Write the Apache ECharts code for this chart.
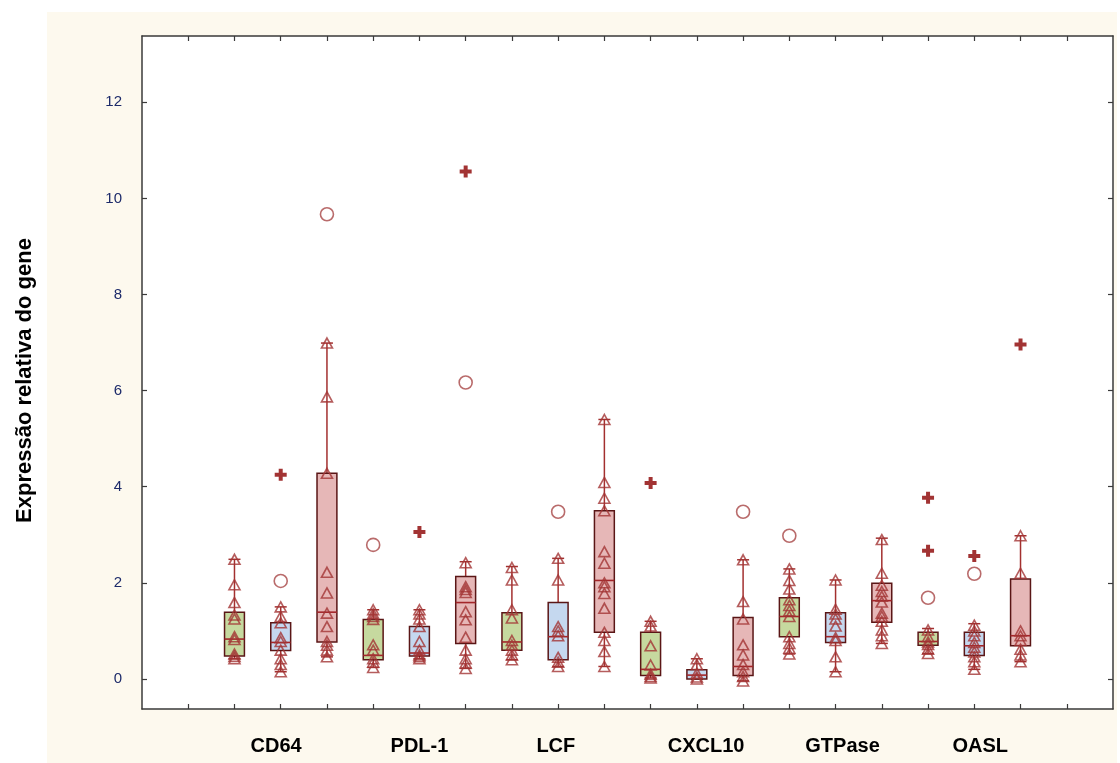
<!DOCTYPE html>
<html>
<head>
<meta charset="utf-8">
<script src="https://cdn.jsdelivr.net/npm/echarts@6/dist/echarts.min.js"></script>
<style>
html,body{margin:0;padding:0;background:#fff;}
#chart{width:1120px;height:763px;}
</style>
</head>
<body>
<div id="chart"></div>
<script>
// ---- data ----
const genes = ['CD64', 'PDL-1', 'LCF', 'CXCL10', 'GTPase', 'OASL'];
const groupColors = ['#c6d99f', '#c5d8ef', '#e6b7b7'];
// box statistics per box (3 groups per gene): [min, Q1, median, Q3, max]
const boxStats = [
  [0.42, 0.48, 0.83, 1.39, 2.49],
  [0.15, 0.59, 0.76, 1.17, 1.50],
  [0.46, 0.77, 1.39, 4.28, 6.99],
  [0.24, 0.40, 0.49, 1.24, 1.44],
  [0.42, 0.48, 0.54, 1.09, 1.44],
  [0.22, 0.74, 1.59, 2.13, 2.44],
  [0.40, 0.60, 0.77, 1.38, 2.34],
  [0.26, 0.40, 0.88, 1.59, 2.51],
  [0.26, 0.97, 2.05, 3.50, 5.40],
  [0.02, 0.07, 0.20, 0.97, 1.20],
  [0.00, 0.00, 0.08, 0.19, 0.42],
  [-0.04, 0.07, 0.26, 1.28, 2.48],
  [0.52, 0.88, 1.30, 1.69, 2.29],
  [0.15, 0.76, 0.88, 1.38, 2.06],
  [0.74, 1.18, 1.63, 1.99, 2.93],
  [0.53, 0.70, 0.78, 0.97, 1.05],
  [0.20, 0.49, 0.69, 0.97, 1.15],
  [0.36, 0.69, 0.90, 2.08, 2.98]
];
// individual (non-outlier) observations per box
const boxPoints = [
  [2.49, 1.96, 1.59, 1.33, 1.25, 0.88, 0.82, 0.52, 0.47, 0.42],
  [1.50, 1.30, 1.17, 0.86, 0.78, 0.60, 0.42, 0.30, 0.15],
  [6.99, 5.87, 4.28, 2.22, 1.79, 1.37, 1.09, 0.78, 0.70, 0.60, 0.46],
  [1.44, 1.36, 1.30, 1.24, 0.71, 0.60, 0.42, 0.35, 0.24],
  [1.44, 1.35, 1.25, 1.09, 0.78, 0.60, 0.50, 0.46, 0.42],
  [2.42, 1.92, 1.86, 1.80, 1.40, 1.23, 0.87, 0.60, 0.42, 0.33, 0.22],
  [2.32, 2.06, 1.44, 1.27, 0.80, 0.70, 0.60, 0.50, 0.40],
  [2.51, 2.06, 1.09, 1.00, 0.90, 0.45, 0.35, 0.26],
  [5.40, 4.09, 3.76, 3.50, 2.65, 2.41, 2.00, 1.92, 1.78, 1.47, 0.97, 0.80, 0.57, 0.26],
  [1.20, 1.10, 0.69, 0.29, 0.10, 0.05, 0.02],
  [0.42, 0.30, 0.12, 0.04, 0.00],
  [2.48, 1.61, 1.25, 0.71, 0.50, 0.30, 0.15, 0.05, -0.04],
  [2.29, 2.05, 1.87, 1.65, 1.53, 1.42, 1.30, 0.88, 0.74, 0.64, 0.52],
  [2.06, 1.45, 1.35, 1.25, 1.10, 0.86, 0.80, 0.46, 0.15],
  [2.90, 2.20, 1.95, 1.82, 1.72, 1.60, 1.37, 1.30, 1.20, 1.02, 0.90, 0.74],
  [1.02, 0.88, 0.77, 0.72, 0.62, 0.53],
  [1.12, 1.00, 0.90, 0.76, 0.66, 0.56, 0.46, 0.36, 0.20],
  [2.98, 2.20, 1.00, 0.90, 0.80, 0.62, 0.50, 0.36]
];
// outliers: [box index, value]
const outliers = [[1, 2.04], [2, 9.67], [3, 2.79], [5, 6.17], [7, 3.48], [11, 3.48], [12, 2.98], [15, 1.69], [16, 2.19]];
// extreme values: [box index, value]
const extremes = [[1, 4.25], [4, 3.06], [5, 10.56], [9, 4.08], [15, 3.77], [15, 2.67], [16, 2.56], [17, 6.96]];
const yTicks = [0, 2, 4, 6, 8, 10, 12];

// ---- build ----
const boxData = boxStats.map((s, i) => [i + 1].concat(s).concat([i % 3]));
const triData = [];
boxPoints.forEach((arr, i) => arr.forEach(v => triData.push([i + 1, v])));
const outData = outliers.map(o => [o[0] + 1, o[1]]);
const extData = extremes.map(o => [o[0] + 1, o[1]]);
const xTickVals = [];
for (let i = 0; i <= 19; i++) xTickVals.push(i);
const geneLabelPos = [1.9, 5.0, 7.95, 11.2, 14.15, 17.13];

const font = '"Liberation Sans", Arial, sans-serif';
const axisLineStyle = {color: '#3a3a3a', width: 1.5};

const chart = echarts.init(document.getElementById('chart'), null, {renderer: 'canvas'});
chart.setOption({
  backgroundColor: '#ffffff',
  animation: false,
  graphic: [{
    type: 'rect', z: -100, silent: true,
    shape: {x: 47, y: 12, width: 1070, height: 751},
    style: {fill: '#fdf9ee'}
  }],
  grid: {left: 142, top: 36, right: 7, bottom: 54, show: true, backgroundColor: '#ffffff', borderWidth: 0,
    containLabel: false, outerBoundsMode: 'none'},
  xAxis: [{
    type: 'value', min: -1, max: 20, interval: 1,
    splitLine: {show: false},
    axisLine: {show: true, onZero: false, lineStyle: axisLineStyle},
    axisTick: {show: true, inside: true, length: 5, customValues: xTickVals, lineStyle: {color: '#3a3a3a', width: 1.2}},
    axisLabel: {
      show: true, customValues: geneLabelPos, margin: 27,
      fontFamily: font, fontWeight: 'bold', fontSize: 20, color: '#000',
      formatter: v => {
        let best = 0;
        geneLabelPos.forEach((p, i) => { if (Math.abs(p - v) < Math.abs(geneLabelPos[best] - v)) best = i; });
        return genes[best];
      }
    }
  }, {
    type: 'value', position: 'top', min: -1, max: 20, interval: 1,
    splitLine: {show: false},
    axisLine: {show: true, onZero: false, lineStyle: axisLineStyle},
    axisTick: {show: true, inside: true, length: 5, customValues: xTickVals, lineStyle: {color: '#3a3a3a', width: 1.2}},
    axisLabel: {show: false}
  }],
  yAxis: [{
    type: 'value', min: -0.625, max: 13.38,
    splitLine: {show: false},
    axisLine: {show: true, onZero: false, lineStyle: axisLineStyle},
    axisTick: {show: true, inside: true, length: 5, customValues: yTicks, lineStyle: {color: '#3a3a3a', width: 1.2}},
    axisLabel: {show: true, customValues: yTicks, margin: 20, fontFamily: font, fontSize: 15, color: '#1d2b6a'},
    name: 'Expressão relativa do gene', nameLocation: 'middle', nameGap: 106, nameRotate: 90,
    nameTextStyle: {fontFamily: font, fontWeight: 'bold', fontSize: 22, color: '#000', padding: [0, 16, 0, 0]}
  }, {
    type: 'value', position: 'right', min: -0.625, max: 13.38,
    splitLine: {show: false},
    axisLine: {show: true, onZero: false, lineStyle: axisLineStyle},
    axisTick: {show: true, inside: true, length: 5, customValues: yTicks, lineStyle: {color: '#3a3a3a', width: 1.2}},
    axisLabel: {show: false}
  }],
  series: [{
    type: 'custom',
    xAxisIndex: 0, yAxisIndex: 0,
    data: boxData,
    encode: {x: 0, y: [1, 2, 3, 4, 5]},
    renderItem: (params, api) => {
      const x = api.value(0);
      const vmin = api.value(1), q1 = api.value(2), med = api.value(3), q3 = api.value(4), vmax = api.value(5);
      const ci = api.value(6);
      const pMax = api.coord([x, vmax]), pQ3 = api.coord([x, q3]), pMed = api.coord([x, med]);
      const pQ1 = api.coord([x, q1]), pMin = api.coord([x, vmin]);
      const hw = api.size([1, 0])[0] * 0.215;
      const cap = 6;
      const wStyle = {stroke: '#a3302f', lineWidth: 1.5};
      return {
        type: 'group',
        children: [
          {type: 'line', shape: {x1: pMax[0], y1: pMax[1], x2: pQ3[0], y2: pQ3[1]}, style: wStyle},
          {type: 'line', shape: {x1: pQ1[0], y1: pQ1[1], x2: pMin[0], y2: pMin[1]}, style: wStyle},
          {type: 'line', shape: {x1: pMax[0] - cap, y1: pMax[1], x2: pMax[0] + cap, y2: pMax[1]}, style: wStyle},
          {type: 'line', shape: {x1: pMin[0] - cap, y1: pMin[1], x2: pMin[0] + cap, y2: pMin[1]}, style: wStyle},
          {type: 'rect', shape: {x: pQ3[0] - hw, y: pQ3[1], width: hw * 2, height: pQ1[1] - pQ3[1]},
            style: {fill: groupColors[ci], stroke: '#5a1616', lineWidth: 1.5}},
          {type: 'line', shape: {x1: pMed[0] - hw, y1: pMed[1], x2: pMed[0] + hw, y2: pMed[1]},
            style: {stroke: '#a3262a', lineWidth: 1.6}}
        ]
      };
    },
    z: 2
  }, {
    type: 'scatter',
    data: triData,
    symbol: 'triangle', symbolSize: [11, 10],
    itemStyle: {color: 'rgba(0,0,0,0)', borderColor: '#a23434', borderWidth: 1.6},
    z: 3
  }, {
    type: 'scatter',
    data: outData,
    symbol: 'circle', symbolSize: 13,
    itemStyle: {color: 'rgba(0,0,0,0)', borderColor: '#a84646', borderWidth: 1.6},
    z: 3
  }, {
    type: 'scatter',
    data: extData,
    symbol: 'path://M-1,-3L1,-3L1,-1L3,-1L3,1L1,1L1,3L-1,3L-1,1L-3,1L-3,-1L-1,-1Z',
    symbolSize: 12,
    itemStyle: {color: '#8b0000'},
    z: 4
  }]
});
</script>
</body>
</html>
